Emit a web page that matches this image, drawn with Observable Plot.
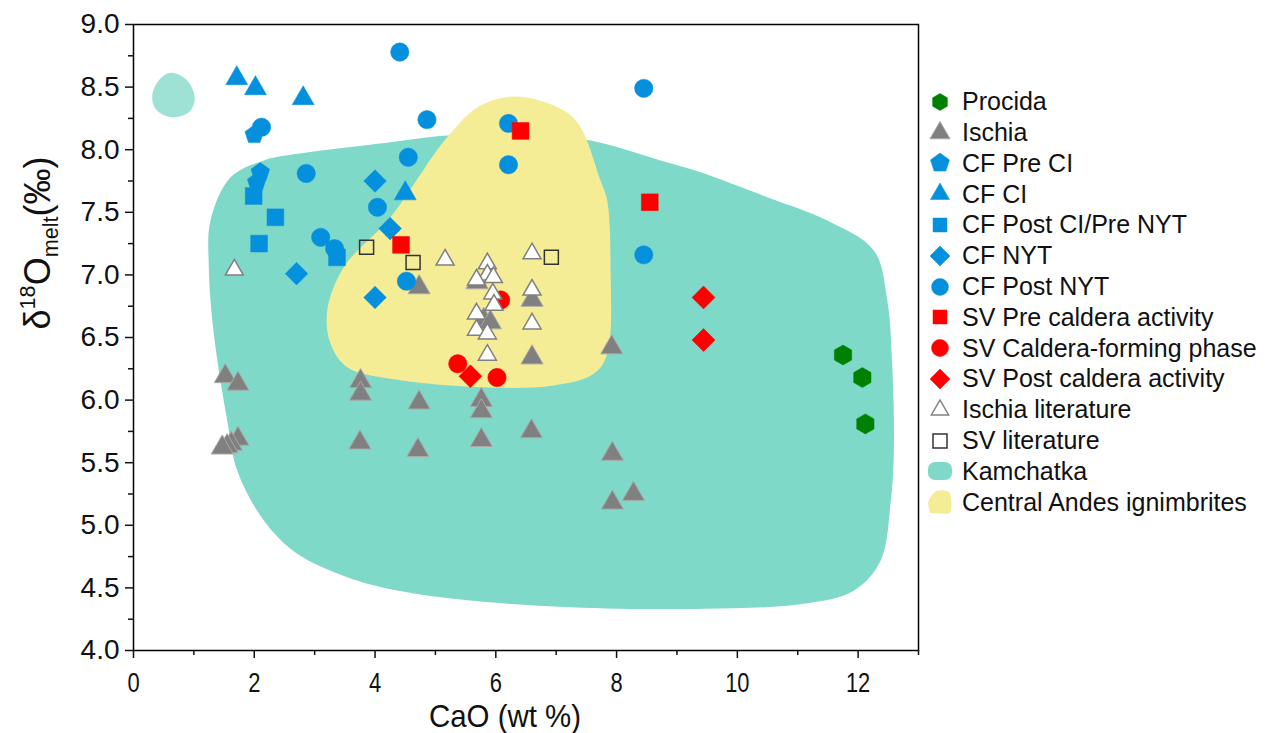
<!DOCTYPE html>
<html><head><meta charset="utf-8">
<script src="https://cdn.jsdelivr.net/npm/d3@7"></script>
<script src="https://cdn.jsdelivr.net/npm/@observablehq/plot@0.6"></script>
<style>
body{margin:0;background:#fff;font-family:"Liberation Sans",Arial,sans-serif;}
#wrap{position:relative;width:1269px;height:733px;overflow:hidden;}
#chart{position:absolute;left:0;top:0;}
.ylab{position:absolute;left:38px;top:243px;transform:translate(-50%,-50%) rotate(-90deg);font-size:36px;white-space:nowrap;color:#111;}
.ylab sup{font-size:0.6em;vertical-align:0.7em;line-height:0;}
.ylab sub{font-size:0.6em;vertical-align:-0.35em;line-height:0;}
.xlab{position:absolute;left:505px;top:716px;transform:translate(-50%,-50%) scaleX(0.92);font-size:32px;white-space:nowrap;color:#111;}
.li{position:absolute;left:920px;height:30px;display:flex;align-items:center;font-size:25px;color:#111;white-space:nowrap;}
.li svg{width:40px;height:30px;margin-right:2px;flex:none;}
</style></head><body>
<div id="wrap"><div id="chart"></div></div>
<script>
// ---- data: [CaO wt%, d18O melt permil] ----
const procida = [[11.75,6.36],[12.07,6.18],[12.12,5.81]];
const ischia = [[1.52,6.19],[1.73,6.13],[3.76,6.15],[3.76,6.05],[1.73,5.69],[1.62,5.65],[1.55,5.63],[1.47,5.62],
  [3.75,5.66],[4.71,5.60],[4.73,5.98],[4.73,6.90],[5.76,6.00],[5.76,5.91],[5.76,5.68],[6.59,5.75],
  [7.93,5.57],[7.93,5.18],[8.28,5.25],[7.92,6.42],[6.60,6.34],[6.60,6.80],[5.80,6.64],[5.91,6.62],[5.69,6.94]];
const cfPreCI = [[2.00,8.12],[2.10,7.82],[2.04,7.74]];
const cfCI = [[1.71,8.57],[2.02,8.49],[2.81,8.41],[4.50,7.65]];
const cfPostCIPreNYT = [[1.99,7.63],[2.35,7.46],[2.08,7.25],[3.37,7.14]];
const cfNYT = [[4.00,7.75],[4.25,7.37],[2.70,7.01],[4.00,6.82]];
const cfPostNYT = [[4.41,8.78],[4.86,8.24],[6.21,8.21],[6.21,7.88],[8.45,8.49],[8.45,7.16],[2.12,8.18],
  [2.86,7.81],[4.55,7.94],[4.04,7.54],[3.10,7.30],[3.33,7.21],[4.52,6.95]];
const svPre = [[6.41,8.15],[8.55,7.58],[4.43,7.24]];
const svCaldera = [[6.08,6.80],[5.37,6.29],[6.02,6.18]];
const svPost = [[5.58,6.19],[9.44,6.82],[9.44,6.48]];
const ischiaLit = [[1.67,7.04],[5.16,7.12],[5.86,7.09],[5.86,7.00],[5.68,6.96],[5.96,6.98],[5.95,6.85],
  [5.97,6.76],[5.68,6.69],[5.68,6.56],[5.86,6.53],[5.86,6.36],[6.60,7.17],[6.60,6.88],[6.60,6.61]];
const svLit = [[3.86,7.22],[4.63,7.10],[6.92,7.14]];
// field outlines
const kamchatka = [[1.275,7.434],[1.607,7.780],[2.158,7.914],[2.711,7.967],[4.256,8.060],[5.195,8.113],
  [6.409,8.129],[7.569,8.073],[8.728,7.914],[9.390,7.820],[10.495,7.621],[11.489,7.435],[12.261,7.195],
  [12.483,6.796],[12.566,6.263],[12.592,5.597],[12.537,5.172],[12.371,4.716],[11.929,4.477],[11.101,4.373],
  [9.445,4.333],[7.237,4.346],[5.581,4.399],[4.367,4.479],[3.539,4.586],[2.711,4.772],[2.158,5.038],
  [1.717,5.438],[1.552,5.837],[1.330,6.530],[1.247,7.062]];
const kamchatkaSmall = [[0.613,8.614],[0.889,8.553],[1.015,8.407],[0.916,8.300],[0.613,8.260],
  [0.364,8.327],[0.310,8.433],[0.419,8.553]];
const andes = [[6.355,8.425],[7.127,8.313],[7.403,8.180],[7.734,7.754],[7.845,7.594],[7.900,7.061],
  [7.845,6.370],[7.624,6.210],[6.961,6.117],[5.747,6.103],[4.256,6.170],[3.539,6.263],[3.263,6.450],
  [3.208,6.716],[3.483,7.061],[4.256,7.461],[5.195,8.100],[5.747,8.353]];
// ticks
const xTicks = [0,2,4,6,8,10,12];
const xMinor = [1,3,5,7,9,11,13];
const yTicks = [4.0,4.5,5.0,5.5,6.0,6.5,7.0,7.5,8.0,8.5,9.0];
const yMinor = [4.25,4.75,5.25,5.75,6.25,6.75,7.25,7.75,8.25,8.75];

// ---- symbols ----
function poly(n, rot, k = 1) {
  return {draw(ctx, size) {
    const r = Math.sqrt(size / Math.PI) * k;
    for (let i = 0; i < n; i++) {
      const a = rot + i * 2 * Math.PI / n, px = r * Math.cos(a), py = r * Math.sin(a);
      i ? ctx.lineTo(px, py) : ctx.moveTo(px, py);
    }
    ctx.closePath();
  }};
}
const TRI = poly(3, -Math.PI/2), PENT = poly(5, -Math.PI/2), HEX = poly(6, -Math.PI/2);
const DIAM = poly(4, -Math.PI/2), SQR = poly(4, -Math.PI/4, Math.SQRT2), CIRC = d3.symbolCircle;
const BLUE = "#0590dd", RED = "#ff0000", GREEN = "#008000", GRAY = "#808080";

const series = [
  {name:"Procida", data:procida, sym:HEX, r:10, lr:8.5, fill:GREEN, stroke:GREEN, sw:0.5},
  {name:"Ischia", data:ischia, sym:TRI, r:12.7, lr:11.5, fill:GRAY, stroke:"#a8a8a8", sw:1},
  {name:"CF Pre CI", data:cfPreCI, sym:PENT, r:9.8, lr:10, fill:BLUE, stroke:BLUE, sw:0.5},
  {name:"CF CI", data:cfCI, sym:TRI, r:12.7, lr:11, fill:BLUE, stroke:BLUE, sw:0.5},
  {name:"CF Post CI/Pre NYT", data:cfPostCIPreNYT, sym:SQR, r:8.4, lr:7, fill:BLUE, stroke:BLUE, sw:0.5},
  {name:"CF NYT", data:cfNYT, sym:DIAM, r:11.3, lr:10, fill:BLUE, stroke:BLUE, sw:0.5},
  {name:"CF Post NYT", data:cfPostNYT, sym:CIRC, r:9.2, lr:8.5, fill:BLUE, stroke:BLUE, sw:0.5},
  {name:"SV Pre caldera activity", data:svPre, sym:SQR, r:8.4, lr:7, fill:RED, stroke:RED, sw:0.5},
  {name:"SV Caldera-forming phase", data:svCaldera, sym:CIRC, r:9.2, lr:8.5, fill:RED, stroke:RED, sw:0.5},
  {name:"SV Post caldera activity", data:svPost, sym:DIAM, r:11.5, lr:10, fill:RED, stroke:RED, sw:0.5},
  {name:"Ischia literature", data:ischiaLit, sym:TRI, r:10.4, lr:10, fill:"#ffffff", stroke:GRAY, sw:1.5},
  {name:"SV literature", data:svLit, sym:SQR, r:7, lr:7, fill:"none", stroke:"#333333", sw:1.5}
];
const KAM = "#7fd9c8", KAM2 = "#9de2d5", AND = "#f5ec96";

const chart = Plot.plot({
  width: 1269, height: 733,
  marginLeft: 133, marginRight: 351, marginTop: 24, marginBottom: 83,
  x: {domain: [0, 13]},
  y: {domain: [4, 9]},
  style: {fontFamily: "'Liberation Sans', Arial, sans-serif", background: "transparent", color: "#111"},
  marks: [
    Plot.line(kamchatkaSmall, {x: d => d[0], y: d => d[1], curve: "catmull-rom-closed", fill: KAM2, stroke: "none"}),
    Plot.line(kamchatka, {x: d => d[0], y: d => d[1], curve: "catmull-rom-closed", fill: KAM, stroke: "none"}),
    Plot.line(andes, {x: d => d[0], y: d => d[1], curve: "catmull-rom-closed", fill: AND, stroke: "none"}),
    ...series.map(s => Plot.dot(s.data, {x: d => d[0], y: d => d[1], symbol: s.sym, r: s.r,
      fill: s.fill, stroke: s.stroke, strokeWidth: s.sw})),
    Plot.frame({stroke: "#000", strokeWidth: 1.5}),
    Plot.axisX({ticks: xTicks, tickSize: 8, tickPadding: 14, fontSize: 28, strokeWidth: 1.5,
      tickFormat: d => String(d), label: null}),
    Plot.axisX({ticks: xMinor, tickSize: 5, strokeWidth: 1.5, tickFormat: () => "", label: null}),
    Plot.axisY({ticks: yTicks, tickSize: 8, tickPadding: 6, fontSize: 28, strokeWidth: 1.5,
      tickFormat: d3.format(".1f"), label: null}),
    Plot.axisY({ticks: yMinor, tickSize: 5, strokeWidth: 1.5, tickFormat: () => "", label: null})
  ]
});
const wrap = document.getElementById("wrap");
document.getElementById("chart").appendChild(chart);
// condense the x tick labels (the reference uses a narrow face)
const xTickStr = xTicks.map(String);
chart.querySelectorAll("text").forEach(el => {
  const g = el.closest("g");
  const lab = g ? (g.getAttribute("aria-label") || "") : "";
  if (!lab.startsWith("x-axis") || !xTickStr.includes(el.textContent)) return;
  let w = el.getComputedTextLength ? el.getComputedTextLength() : 0;
  if (!w) w = 28 * 0.556 * el.textContent.length;
  el.setAttribute("textLength", (w * 0.78).toFixed(1));
  el.setAttribute("lengthAdjust", "spacingAndGlyphs");
});

// axis titles
const yl = document.createElement("div"); yl.className = "ylab";
yl.innerHTML = "δ<sup>18</sup>O<sub>melt</sub>(‰)"; wrap.appendChild(yl);
const xl = document.createElement("div"); xl.className = "xlab";
xl.textContent = "CaO (wt %)"; wrap.appendChild(xl);

// legend
const legendNames = series.map(s => s.name).concat(["Kamchatka", "Central Andes ignimbrites"]);
legendNames.forEach((name, i) => {
  const row = document.createElement("div"); row.className = "li";
  row.style.top = (101.7 + 30.8 * i - 15) + "px";
  const svg = d3.create("svg").attr("viewBox", "0 0 40 30");
  if (i < series.length) {
    const s = series[i];
    svg.append("path").attr("transform", "translate(20,15)")
      .attr("d", d3.symbol(s.sym, Math.PI * s.lr * s.lr)())
      .attr("fill", s.fill).attr("stroke", s.stroke).attr("stroke-width", s.sw);
  } else if (name === "Kamchatka") {
    svg.append("rect").attr("x", 8).attr("y", 6).attr("width", 24).attr("height", 18).attr("rx", 7).attr("fill", KAM);
  } else {
    svg.append("path").attr("d", "M10,26 L8,16 Q9,10 16,4 Q26,2 30,6 Q32,16 31,24 Q30,27 26,27 Z").attr("fill", AND);
  }
  row.appendChild(svg.node());
  const t = document.createElement("span"); t.textContent = name; row.appendChild(t);
  wrap.appendChild(row);
});
</script>
</body></html>
